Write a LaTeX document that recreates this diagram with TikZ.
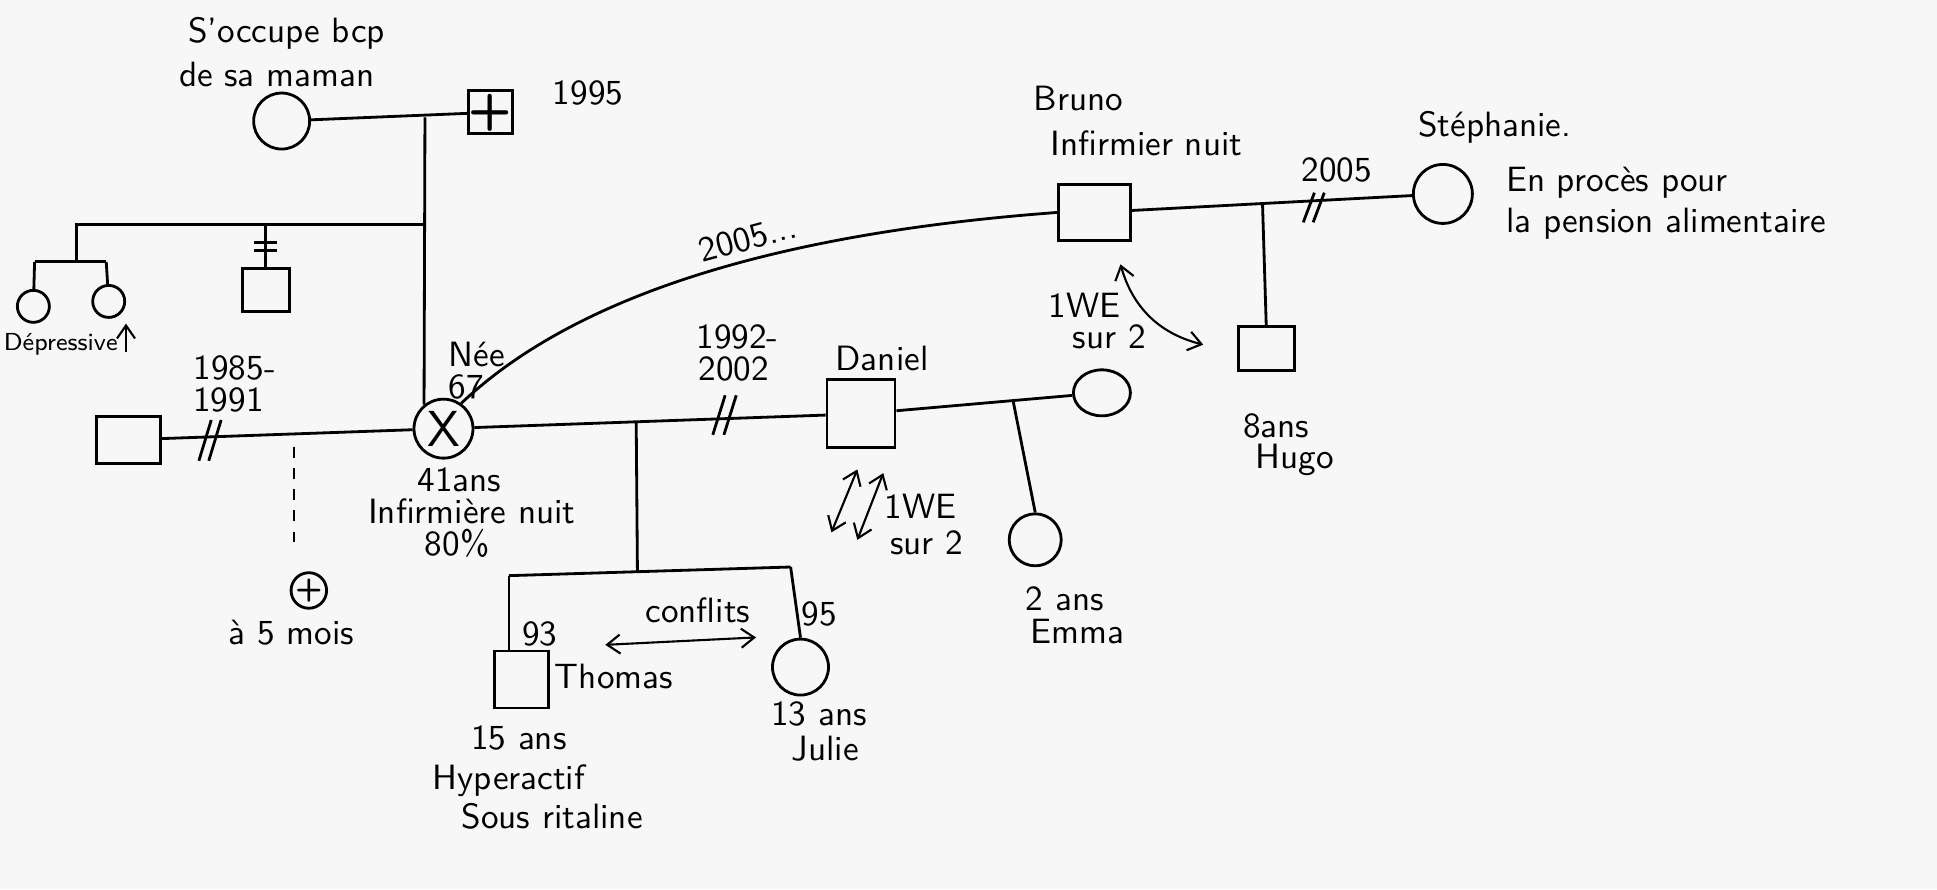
\documentclass[tikz,border=0pt]{standalone}
\usetikzlibrary{arrows.meta,shapes.geometric}
\begin{document}
\begin{tikzpicture}[x=0.12353mm,y=-0.12353mm,font=\sffamily,line width=0.8pt,
  homme/.style={draw,rectangle,inner sep=0pt},
  femme/.style={draw,circle,inner sep=0pt},
  lbl/.style={inner sep=0pt},
  fleche/.style={{Straight Barb[length=1.3mm,width=1.9mm]}-{Straight Barb[length=1.3mm,width=1.9mm]},line width=0.6pt}]
\fill[black!3] (0,0) rectangle (1568,720);
\useasboundingbox (0,0) rectangle (1568,720);
% grands-parents
\node[femme,minimum size=5.6mm] (grandmere) at (228,98) {};
\node[homme,minimum size=4.3mm,font=\sffamily\Large\bfseries] (grandpere) at (397,91) {+};
\node[lbl] (occupe) at (232,27) {S'occupe bcp};
\node[lbl] (maman) at (224,60) {de sa maman};
\node[lbl] (deces) at (476,75) {1995};
\draw (grandmere) -- (grandpere);
% fratrie
\node[femme,minimum size=3.2mm] (soeurA) at (27,248) {};
\node[femme,minimum size=3.2mm] (soeurB) at (88,244) {};
\node[homme,minimum width=4.7mm,minimum height=4.3mm] (frere) at (215,235) {};
\node[lbl,anchor=west,font=\sffamily\scriptsize] (depressive) at (2,279) {Dépressive};
\coordinate (gp) at (344,95);
\coordinate (fr) at (344,182);
\coordinate (fa) at (62,182);
\coordinate (fb) at (62,212);
\coordinate (fc) at (28,212);
\coordinate (fd) at (86,212);
\coordinate (fe) at (215,182);
\draw (fr) -- (fa) -- (fb);
\draw (fc) -- (fd);
\draw (fc) -- (soeurA);
\draw (fd) -- (soeurB);
\draw (fe) -- (frere);
\draw (206,196) -- (224,196) (206,203) -- (224,203);
\draw[-{Straight Barb[length=1.3mm,width=1.8mm]},line width=0.6pt] (102,285) -- (102,262);
% la mere
\node[femme,minimum size=5.9mm,font=\sffamily\Large] (mere) at (359,347) {X};
\draw (gp) -- (mere.129);
\node[lbl,anchor=west] (nee) at (362,287) {Née};
\node[lbl,anchor=west] (annee) at (362,313) {67};
\node[lbl] (age) at (372,388) {41ans};
\node[lbl] (metier) at (382,414) {Infirmière nuit};
\node[lbl] (taux) at (370,440) {80\%};
% premier mari
\node[homme,minimum width=6.4mm,minimum height=4.7mm] (ex) at (104,356) {};
\node[lbl] (debut) at (190,298) {1985-};
\node[lbl] (fin) at (185,324) {1991};
\draw (ex) -- (mere);
\draw (161,373) -- (171,340) (169,373) -- (179,340);
\node[femme,minimum size=3.5mm,font=\sffamily\small\bfseries] (bebe) at (250,478) {+};
\node[lbl] (mois) at (236,512) {à 5 mois};
\coordinate (fausse) at (238,362);
\draw[dashed] (fausse) -- (238,446);
% Daniel
\node[homme,minimum size=6.8mm] (daniel) at (697,335) {};
\node[lbl] (daniel-nom) at (714,290) {Daniel};
\node[lbl] (mariage) at (597,273) {1992-};
\node[lbl] (divorce) at (594,299) {2002};
\draw (mere) -- (daniel);
\draw (577,352) -- (587,320) (586,352) -- (596,320);
% enfants
\node[homme,minimum width=5.4mm,minimum height=5.7mm] (thomas) at (422,550) {};
\node[femme,minimum size=5.6mm] (julie) at (648,540) {};
\coordinate (enf) at (515,341);
\coordinate (enfb) at (516,463);
\coordinate (th) at (412,466);
\coordinate (ju) at (640,459);
\draw (enf) -- (enfb);
\draw (th) -- (ju);
\draw (th) -- (th |- thomas.north);
\draw (ju) -- (julie.north);
\node[lbl] (th-an) at (437,513) {93};
\node[lbl] (ju-an) at (663,497) {95};
\node[lbl] (th-nom) at (497,548) {Thomas};
\node[lbl] (th-age) at (420,597) {15 ans};
\node[lbl] (hyper) at (412,632) {Hyperactif};
\node[lbl] (ritaline) at (447,661) {Sous ritaline};
\node[lbl] (ju-age) at (663,578) {13 ans};
\node[lbl] (ju-nom) at (668,606) {Julie};
\node[lbl] (conflits) at (565,494) {conflits};
\draw[fleche] (490,522) -- (612,516);
\draw[fleche] (694,380) -- (673,431);
\draw[fleche] (715,383) -- (694,437);
\node[lbl] (we1) at (745,410) {1WE};
\node[lbl] (sur1) at (750,439) {sur 2};
% Emma
\node[draw,ellipse,inner sep=0pt,minimum width=5.7mm,minimum height=4.6mm] (emma-mere) at (892,318) {};
\node[femme,minimum size=5.2mm] (emma) at (838,437) {};
\coordinate (em) at (820,324);
\draw (daniel) -- (emma-mere);
\draw (em) -- (emma.north);
\node[lbl] (em-age) at (862,485) {2 ans};
\node[lbl] (em-nom) at (872,511) {Emma};
% Bruno
\node[homme,minimum width=7.2mm,minimum height=5.6mm] (bruno) at (886,172) {};
\node[lbl] (bruno-nom) at (873,80) {Bruno};
\node[lbl] (bruno-met) at (928,116) {Infirmier nuit};
\draw (mere.55) .. controls (470,235) and (640,188) .. (bruno.west);
\node[lbl,rotate=15] (depuis) at (605,193) {2005...};
% Stephanie
\node[femme,minimum size=5.9mm] (steph) at (1168,157) {};
\node[lbl] (steph-nom) at (1210,103) {Stéphanie.};
\node[lbl,anchor=west] (proces) at (1218,148) {En procès pour};
\node[lbl,anchor=west] (pension) at (1218,181) {la pension alimentaire};
\node[lbl] (sep) at (1082,138) {2005};
\draw (bruno) -- (steph);
\draw (1055,180) -- (1064,156) (1063,180) -- (1072,156);
% Hugo
\node[homme,minimum width=5.6mm,minimum height=4.4mm] (hugo) at (1025,282) {};
\coordinate (hu) at (1022,165);
\draw (hu) -- (hugo.north);
\node[lbl] (hu-age) at (1033,345) {8ans};
\node[lbl] (hu-nom) at (1048,372) {Hugo};
\draw[fleche] (907,214) to[bend right=30] (974,279);
\node[lbl] (we2) at (878,247) {1WE};
\node[lbl] (sur2) at (898,273) {sur 2};
\end{tikzpicture}
\end{document}
